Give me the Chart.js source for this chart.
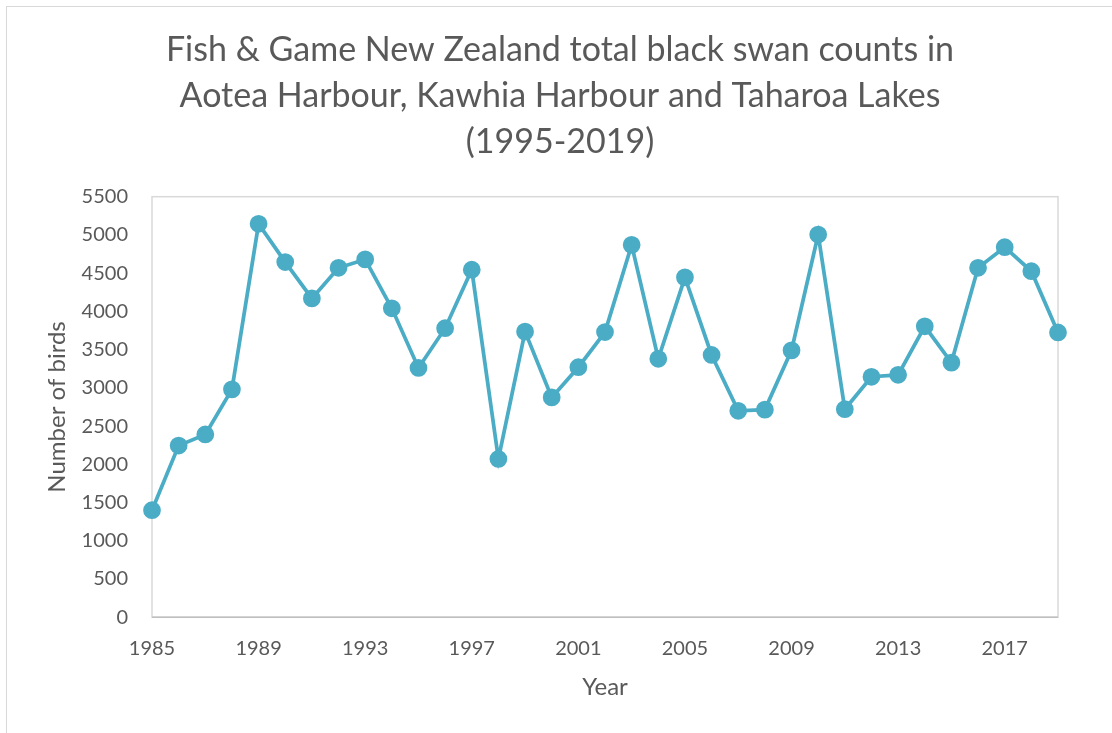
<!DOCTYPE html>
<html>
<head>
<meta charset="utf-8">
<script src="https://cdn.jsdelivr.net/npm/chart.js@4"></script>
<style>
  html, body { margin: 0; padding: 0; background: #fff; }
  #wrap { position: relative; width: 1112px; height: 733px; }
  #frame { position: absolute; left: 6px; top: 6px; right: -2px; bottom: -2px; border: 1px solid #d9d9d9; }
  canvas { position: absolute; left: 0; top: 0; }
</style>
</head>
<body>
<div id="wrap">
  <div id="frame"></div>
  <canvas id="chart" width="1112" height="733"></canvas>
</div>
<script>
const years = [];
for (let y = 1985; y <= 2019; y++) years.push(String(y));

const swanCounts = [
  1400, 2245, 2390, 2980, 5145, 4645, 4170, 4570, 4680, 4040,
  3260, 3780, 4545, 2070, 3735, 2875, 3270, 3730, 4870, 3380,
  4445, 3430, 2700, 2715, 3490, 5005, 2720, 3145, 3170, 3805,
  3330, 4570, 4840, 4525, 3725
];

const titleLines = [
  'Fish & Game New Zealand total black swan counts in',
  'Aotea Harbour, Kawhia Harbour and Taharoa Lakes',
  '(1995-2019)'
];

const textColor = '#595959';
const lineColor = '#4bacc6';
const fontFamily = "Lato, 'Open Sans', sans-serif";

// border round the plot area
const plotBorder = {
  id: 'plotBorder',
  beforeDatasetsDraw(chart) {
    const { ctx, chartArea: a } = chart;
    ctx.save();
    ctx.strokeStyle = '#d9d9d9';
    ctx.lineWidth = 1.5;
    ctx.strokeRect(a.left, a.top, a.right - a.left, a.bottom - a.top);
    ctx.strokeStyle = '#bfbfbf';
    ctx.beginPath();
    ctx.moveTo(a.left, a.bottom);
    ctx.lineTo(a.right, a.bottom);
    ctx.stroke();
    ctx.restore();
  }
};

new Chart(document.getElementById('chart'), {
  type: 'line',
  data: {
    labels: years,
    datasets: [{
      data: swanCounts,
      borderColor: lineColor,
      backgroundColor: lineColor,
      borderWidth: 3.75,
      pointRadius: 7,
      pointHoverRadius: 7,
      tension: 0,
      clip: false
    }]
  },
  options: {
    responsive: false,
    animation: false,
    layout: { padding: { left: 62, right: 54, top: 0, bottom: 11 } },
    plugins: {
      legend: { display: false },
      tooltip: { enabled: false },
      title: {
        display: true,
        text: titleLines,
        color: textColor,
        font: { family: fontFamily, size: 34, weight: 'normal', lineHeight: 1.35 },
        padding: { top: 27, bottom: 32 }
      }
    },
    scales: {
      x: {
        type: 'category',
        offset: false,
        grid: { display: false, drawTicks: false },
        border: { display: false },
        ticks: {
          autoSkip: false,
          maxRotation: 0,
          padding: 19,
          color: textColor,
          font: { family: fontFamily, size: 20 },
          callback: function (val, i) { return i % 4 === 0 ? this.getLabelForValue(val) : ''; }
        },
        title: {
          display: true,
          text: 'Year',
          color: textColor,
          font: { family: fontFamily, size: 24 },
          padding: { top: -6, bottom: 20 }
        }
      },
      y: {
        min: 0,
        max: 5500,
        grid: { display: false, drawTicks: false },
        border: { display: false },
        afterFit: (scale) => { scale.width = 90; },
        ticks: {
          stepSize: 500,
          padding: 24,
          color: textColor,
          font: { family: fontFamily, size: 20 },
          callback: (v) => String(v)
        },
        title: {
          display: true,
          text: 'Number of birds',
          color: textColor,
          font: { family: fontFamily, size: 24 },
          padding: { top: -19, bottom: 0 }
        }
      }
    }
  },
  plugins: [plotBorder]
});
</script>
</body>
</html>
